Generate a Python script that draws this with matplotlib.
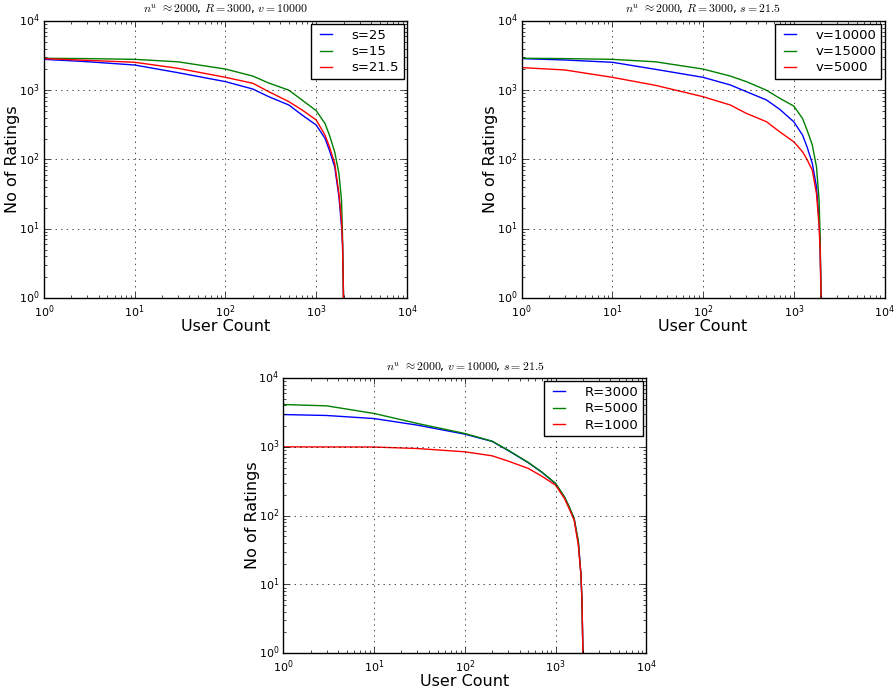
import numpy as np
import matplotlib
matplotlib.use("Agg")
import matplotlib.pyplot as plt

plt.style.use("classic")
plt.rcParams["figure.facecolor"] = "white"
plt.rcParams["savefig.facecolor"] = "white"

# user rank (x) shared by all curves
users = [1, 3, 10, 30, 100, 200, 300, 500, 700, 1000, 1250, 1400, 1600, 1780, 1900, 1950, 2000]

# panel 1: varying s  (R=3000, v=10000)
s25 = [2790, 2580, 2310, 1790, 1330, 1040, 806, 611, 438, 314, 202, 135, 78, 29, 11, 6, 1]
s15 = [2890, 2860, 2790, 2570, 2020, 1600, 1270, 1000, 720, 506, 331, 224, 128, 63, 26, 8, 1]
s215 = [2860, 2700, 2530, 2070, 1535, 1260, 953, 683, 518, 372, 225, 152, 88, 32, 13, 6, 1]

# panel 2: varying v  (R=3000, s=21.5)
v10000 = [2860, 2730, 2530, 2000, 1535, 1190, 953, 723, 530, 350, 225, 152, 88, 40, 13, 6, 1]
v15000 = [2890, 2860, 2790, 2570, 2020, 1600, 1330, 1000, 765, 590, 390, 266, 162, 78, 26, 8, 1]
v5000 = [2120, 1960, 1535, 1175, 806, 611, 463, 351, 251, 180, 129, 100, 70, 32, 11, 5, 1]

# panel 3: varying R  (v=10000, s=21.5)
r3000 = [2950, 2860, 2580, 2070, 1530, 1200, 885, 588, 430, 291, 186, 136, 90, 41, 14, 6, 1]
r5000 = [4130, 3950, 3060, 2190, 1565, 1210, 894, 593, 434, 294, 188, 138, 91, 42, 14, 6, 1]
r1000 = [1000, 998, 995, 946, 848, 741, 621, 486, 376, 277, 178, 129, 86, 37, 14, 6, 1]

fig = plt.figure(figsize=(8.94, 6.91), dpi=100)
ax1 = fig.add_axes([0.0492, 0.5687, 0.406, 0.401])
ax2 = fig.add_axes([0.5834, 0.5687, 0.406, 0.401])
ax3 = fig.add_axes([0.317, 0.0548, 0.406, 0.398])

panels = [
    (ax1, [(s25, "s=25"), (s15, "s=15"), (s215, "s=21.5")],
     r"$n^u$ $\approx 2000$, $R=3000$, $v=10000$"),
    (ax2, [(v10000, "v=10000"), (v15000, "v=15000"), (v5000, "v=5000")],
     r"$n^u$ $\approx 2000$, $R=3000$, $s=21.5$"),
    (ax3, [(r3000, "R=3000"), (r5000, "R=5000"), (r1000, "R=1000")],
     r"$n^u$ $\approx 2000$, $v=10000$, $s=21.5$"),
]

for ax, series, title in panels:
    for (vals, lab), col in zip(series, ["b", "g", "r"]):
        ax.loglog(users, vals, color=col, lw=1.0, label=lab)
    ax.set_xlim(1, 1e4)
    ax.set_ylim(1, 1e4)
    ax.grid(True, which="major", linestyle=":", color="k")
    ax.set_title(title, fontsize=8.5)
    ax.tick_params(labelsize=8)
    ax.tick_params(axis="y", which="major", pad=3)
    ax.set_xlabel("User Count", fontsize=11.5, labelpad=-1)
    ax.set_ylabel("No of Ratings", fontsize=11.5, labelpad=-1)
    ax.legend(loc="upper right", fontsize=9.5, handlelength=1.5, handletextpad=1.2,
              labelspacing=0.25, borderpad=0.35, borderaxespad=0.25, fancybox=False)

fig.savefig("out.png", dpi=100)
